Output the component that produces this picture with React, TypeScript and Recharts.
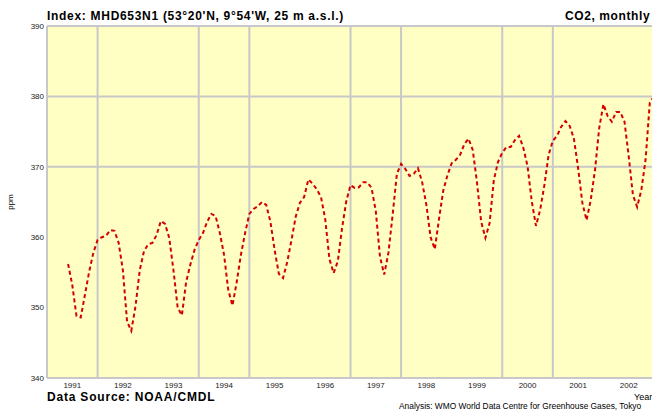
import { LineChart, Line, XAxis, YAxis, CartesianGrid, ReferenceLine } from 'recharts';

// monthly CO2 at Mace Head, first value is June 1991
const startYear = 1991;
const startMonth = 6;
const co2 = [
  356.2, 353.2, 348.8, 348.6, 351.8, 355.1, 357.8,
  359.6, 360.0, 360.2, 361.0, 360.9, 359.2, 355.3, 348.0, 346.7, 350.2, 355.3, 358.0,
  359.0, 359.2, 360.3, 362.3, 361.9, 359.9, 355.3, 350.0, 348.9, 353.6, 356.1, 358.2,
  359.6, 360.6, 362.2, 363.3, 363.0, 360.6, 357.5, 352.5, 350.3, 353.6, 357.5, 360.6,
  363.3, 364.0, 364.4, 365.0, 364.6, 362.2, 358.2, 354.8, 354.2, 356.5, 359.6, 362.9,
  364.9, 365.7, 368.2, 367.6, 366.8, 365.7, 362.6, 356.9, 354.9, 356.6, 361.3, 365.1,
  367.4, 367.0, 367.1, 367.8, 367.8, 367.0, 363.7, 357.2, 354.7, 357.8, 363.2, 369.0,
  370.4, 369.7, 368.7, 369.0, 369.8, 367.8, 364.6, 360.0, 358.3, 362.6, 366.6, 368.8,
  370.5, 371.0, 371.7, 373.2, 374.0, 372.4, 367.8, 362.2, 359.9, 362.0, 368.1, 370.7,
  372.0, 372.8, 372.8, 373.8, 374.4, 372.7, 370.1, 365.1, 361.6, 363.9, 367.4, 371.7,
  373.7, 374.4, 375.7, 376.5, 375.8, 374.0, 369.8, 364.9, 362.4, 365.3, 369.5, 375.5,
  378.9, 377.2, 376.4, 377.8, 377.8, 376.4, 371.5, 366.0, 364.3, 366.7, 371.0, 379.1,
  380.0,
];

const yearLabels = [1991, 1992, 1993, 1994, 1995, 1996, 1997, 1998, 1999, 2000, 2001, 2002];
const ppmTicks = [340, 350, 360, 370, 380, 390];
const gridYears = [1992, 1994, 1995, 1997, 1998, 2000, 2001];
const gridPpm = [370, 380, 390];

const data = co2.map((v, i) => ({
  t: startYear + (startMonth - 1 + i) / 12,
  co2: v,
}));

const font = '"Liberation Sans", Arial, sans-serif';
const gridColor = '#c8c8c8';

export default function App() {
  return (
    <div
      style={{
        position: 'absolute',
        left: 0,
        top: 0,
        width: 652,
        height: 412,
        overflow: 'hidden',
        background: '#fff',
        fontFamily: font,
        color: '#000',
      }}
    >
      <div style={{ position: 'absolute', left: 0, top: 0 }}>
        <LineChart width={660} height={412} data={data} margin={{ top: 26, right: 6, bottom: 20, left: 0 }}>
          {/* horizontal grid comes from a hidden axis so it can differ from the tick labels */}
          <YAxis yAxisId="grid" type="number" domain={[340, 390]} ticks={gridPpm} allowDataOverflow hide />
          <CartesianGrid
            yAxisId="grid"
            vertical={false}
            fill="#ffffc3"
            fillOpacity={1}
            stroke={gridColor}
            strokeWidth={2}
          />
          <XAxis
            dataKey="t"
            type="number"
            domain={[1991, 2003]}
            ticks={yearLabels.map((y) => y + 0.5)}
            tickFormatter={(v: number) => String(Math.floor(v))}
            allowDataOverflow
            height={14}
            tickLine={false}
            tickSize={2}
            axisLine={{ stroke: gridColor, strokeWidth: 2 }}
            tick={{ fontSize: 8, fill: '#222', fontFamily: font }}
            interval={0}
          />
          <YAxis
            type="number"
            domain={[340, 390]}
            ticks={ppmTicks}
            width={47}
            tickLine={false}
            tickSize={3}
            tickMargin={0}
            axisLine={{ stroke: gridColor, strokeWidth: 2 }}
            tick={{ fontSize: 8, fill: '#222', fontFamily: font }}
            interval={0}
          />
          {gridYears.map((y) => (
            <ReferenceLine key={y} x={y} stroke={gridColor} strokeWidth={2} />
          ))}
          <Line
            type="linear"
            dataKey="co2"
            stroke="#d40000"
            strokeWidth={2}
            strokeDasharray="4 3"
            dot={false}
            isAnimationActive={false}
          />
        </LineChart>
      </div>
      <div style={{ position: 'absolute', left: 47, top: 9, fontSize: 12, letterSpacing: 0.7, fontWeight: 'bold', whiteSpace: 'nowrap', lineHeight: '14px' }}>
        Index: MHD653N1 (53°20'N, 9°54'W, 25 m a.s.l.)
      </div>
      <div style={{ position: 'absolute', left: 565, top: 9, fontSize: 12, letterSpacing: 0.6, fontWeight: 'bold', whiteSpace: 'nowrap', lineHeight: '14px' }}>
        CO2, monthly
      </div>
      <div
        style={{
          position: 'absolute',
          left: 10,
          top: 202,
          fontSize: 8,
          whiteSpace: 'nowrap',
          transform: 'translate(-50%, -50%) rotate(-90deg)',
        }}
      >
        ppm
      </div>
      <div style={{ position: 'absolute', left: 47, top: 390, fontSize: 12, letterSpacing: 0.8, fontWeight: 'bold', whiteSpace: 'nowrap', lineHeight: '14px' }}>
        Data Source: NOAA/CMDL
      </div>
      <div style={{ position: 'absolute', left: 634, top: 392, fontSize: 9, whiteSpace: 'nowrap', lineHeight: '11px' }}>
        Year
      </div>
      <div style={{ position: 'absolute', left: 399, top: 401, fontSize: 8.4, whiteSpace: 'nowrap', lineHeight: '10px' }}>
        Analysis: WMO World Data Centre for Greenhouse Gases, Tokyo
      </div>
    </div>
  );
}
